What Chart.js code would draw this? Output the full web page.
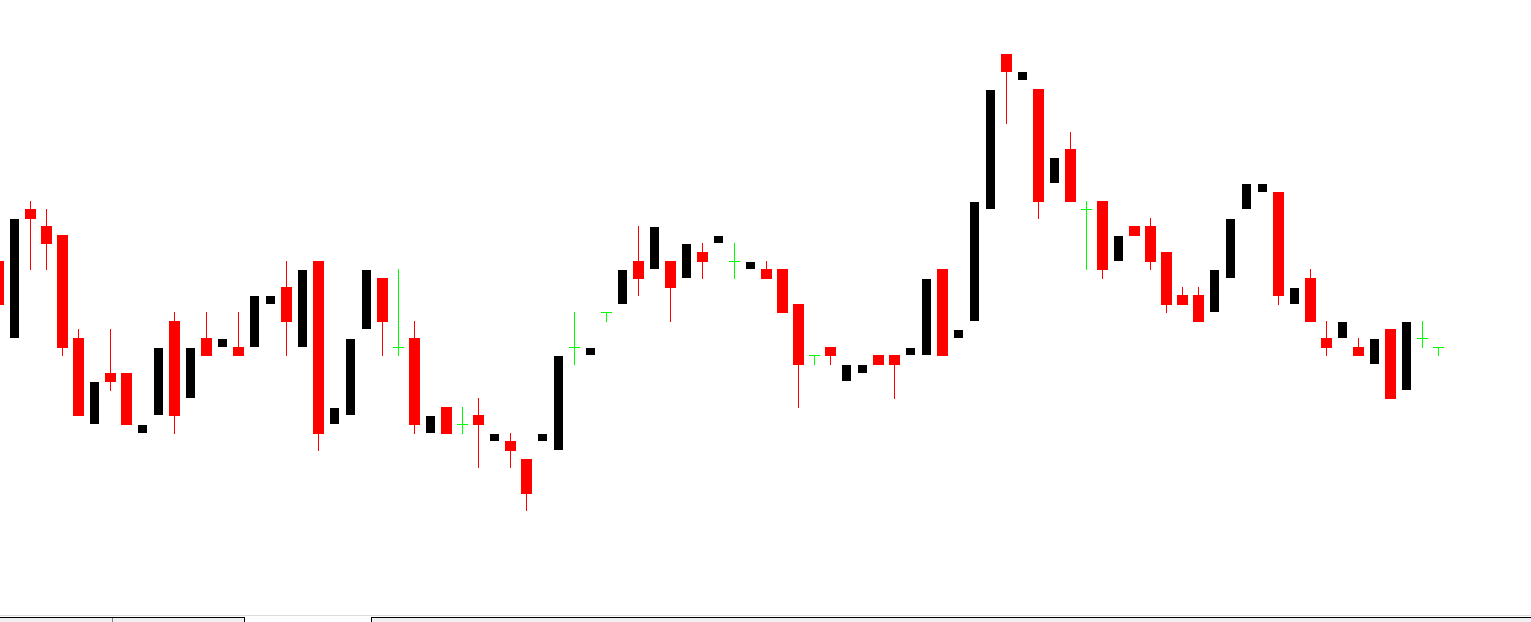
<!DOCTYPE html>
<html>
<head>
<meta charset="utf-8">
<title>Candles</title>
<script src="https://cdn.jsdelivr.net/npm/chart.js@4.4.1/dist/chart.umd.min.js"></script>
<style>
  html, body { margin: 0; padding: 0; background: #fff; overflow: hidden; }
  #wrap { position: relative; width: 1531px; height: 622px; }
  #chart { position: absolute; left: 0; top: 0; }
  .sep { position: absolute; left: 0; top: 615px; width: 1531px; height: 1px; background: #dcdcdc; }
  .tab { position: absolute; top: 617px; height: 5px; background: #f0f0f0; border-top: 1px solid #000; box-sizing: border-box; }
  .tab1 { left: 0; width: 245px; border-right: 1px solid #000; }
  .tab2 { left: 371px; width: 1160px; border-left: 1px solid #000; }
  .divider { position: absolute; left: 112px; top: 618px; width: 1px; height: 4px; background: #808080; }
</style>
</head>
<body>
<div id="wrap">
  <canvas id="chart" width="1531" height="615"></canvas>
  <div class="sep"></div>
  <div class="tab tab1"></div>
  <div class="divider"></div>
  <div class="tab tab2"></div>
</div>
<script>
// price bars, left to right (first one is cut by the left edge)
const openPrices = [354, 277, 406, 389, 380, 277, 191, 242, 242, 182, 200, 294, 217, 277, 268, 268, 268, 311, 328, 268,
  354, 191, 200, 286, 337, 267.5, 277, 182, 208, 190.5, 200, 174, 174, 156, 174, 165, 267.5, 260, 302.5, 311,
  354, 346, 354, 337, 363, 372, 353.5, 346, 346, 346, 311, 259.5, 268, 234, 242, 260, 260, 260, 260, 346,
  277, 294, 406, 561, 535, 526, 432, 466, 405.5, 414, 354, 389, 389, 363, 320, 320, 303, 337, 406, 423,
  423, 311, 337, 277, 277, 268, 251, 286, 225, 276.5, 267.5];
const highPrices = [354, 396, 414, 406, 380, 286, 233, 286, 242, 190, 267, 303, 267, 303, 276, 303, 319, 319, 354, 345,
  354, 207, 276, 345, 337, 346, 294, 199, 208, 208, 217, 181, 182, 156, 181, 259, 303, 267, 303, 345,
  389, 388, 354, 371, 372, 379, 372, 353, 354, 346, 311, 260, 268, 250, 250, 260, 260, 267, 336, 346,
  285, 413, 525, 561, 543, 526, 457, 483, 414, 414, 379, 389, 397, 363, 328, 328, 345, 396, 431, 431,
  423, 327, 346, 294, 293, 277, 276, 286, 293, 294, 268];
const lowPrices = [310, 277, 345, 345, 259, 199, 191, 224, 190, 182, 200, 181, 217, 259, 268, 259, 268, 311, 259, 268,
  164, 191, 200, 286, 259, 259, 181, 182, 181, 181, 147, 174, 147, 104, 174, 165, 250, 260, 293, 311,
  319, 346, 293, 337, 336, 372, 336, 346, 336, 302, 207, 250, 250, 234, 242, 250, 216, 260, 260, 259,
  277, 294, 406, 491, 535, 396, 432, 413, 345, 336, 354, 379, 345, 302, 310, 293, 303, 337, 406, 423,
  310, 311, 293, 259, 277, 259, 251, 216, 225, 267, 259];
const closePrices = [310, 396, 396, 371, 267, 199, 233, 233, 190, 190, 267, 199, 267, 259, 276, 259, 319, 319, 293, 345,
  181, 207, 276, 345, 293, 267.5, 190, 199, 181, 190.5, 190, 181, 164, 121, 181, 259, 267.5, 267, 302.5, 345,
  336, 388, 327, 371, 353, 379, 353.5, 353, 336, 302, 250, 259.5, 259, 250, 250, 250, 250, 267, 336, 259,
  285, 413, 525, 543, 543, 413, 457, 413, 405.5, 345, 379, 379, 353, 310, 310, 293, 345, 396, 431, 431,
  319, 327, 293, 267, 293, 259, 276, 216, 293, 276.5, 267.5];

const BEAR = '#ff0000';
const BULL = '#000000';
const DOJI = '#00ff00';

document.addEventListener('DOMContentLoaded', () => {
  const bearBodies = [];
  const bullBodies = [];
  const dojiTicks = [];
  const wicks = [];
  const wickColors = [];

  openPrices.forEach((open, i) => {
    const close = closePrices[i];
    wicks.push({ x: i, y: [lowPrices[i], highPrices[i]] });
    if (close < open) {
      bearBodies.push({ x: i, y: [close, open] });
      wickColors.push(BEAR);
    } else if (close > open) {
      bullBodies.push({ x: i, y: [open, close] });
      wickColors.push(BULL);
    } else {
      dojiTicks.push({ x: i, y: close });
      wickColors.push(DOJI);
    }
  });

  new Chart(document.getElementById('chart'), {
    type: 'bar',
    data: {
      datasets: [
        {
          type: 'line',
          data: dojiTicks,
          showLine: false,
          pointStyle: 'line',
          pointRadius: 5.5,
          pointBorderWidth: 1,
          pointBorderColor: DOJI,
          pointBackgroundColor: DOJI
        },
        {
          data: bearBodies,
          backgroundColor: BEAR,
          barThickness: 11,
          grouped: false,
          inflateAmount: 0,
          borderWidth: 0
        },
        {
          data: bullBodies,
          backgroundColor: BULL,
          barThickness: 9,
          grouped: false,
          inflateAmount: 0,
          borderWidth: 0
        },
        {
          data: wicks,
          backgroundColor: wickColors,
          barThickness: 1,
          grouped: false,
          inflateAmount: 0,
          borderWidth: 0
        }
      ]
    },
    options: {
      responsive: false,
      devicePixelRatio: 1,
      animation: false,
      events: [],
      layout: { padding: 0, autoPadding: false },
      plugins: {
        legend: { display: false },
        tooltip: { enabled: false }
      },
      scales: {
        x: {
          type: 'linear',
          display: false,
          offset: false,
          min: 0.09375,
          max: 95.78125
        },
        y: {
          type: 'linear',
          display: false,
          min: 0,
          max: 615
        }
      }
    }
  });
});
</script>
</body>
</html>
